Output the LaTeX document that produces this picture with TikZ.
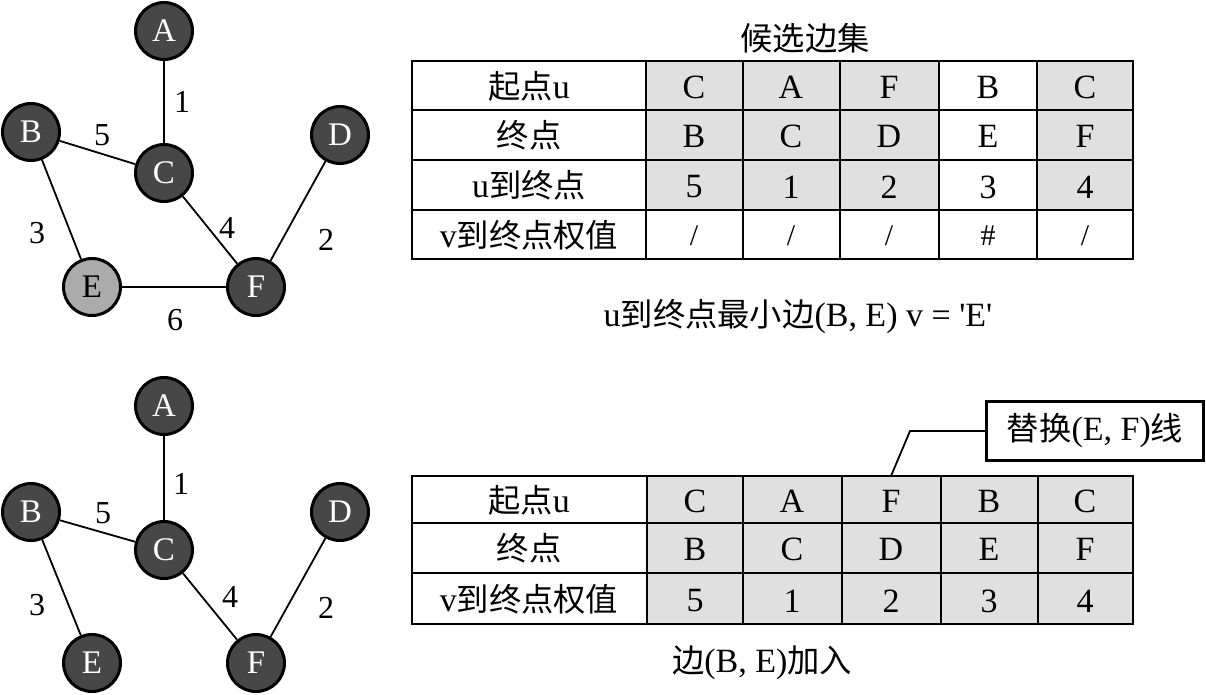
\documentclass[tikz,border=0pt]{standalone}
\usepackage{fontspec}
\setmainfont{Liberation Serif}
\newfontfamily\qfont[Ligatures=TeXOff]{Liberation Serif}
\newfontfamily\cjk[Scale=0.95]{Noto Sans CJK SC}
\definecolor{vdark}{HTML}{474747}
\definecolor{vlight}{HTML}{ABABAB}
\definecolor{cellgrey}{HTML}{E0E0E0}
\newcommand{\slsh}{/}
\newcommand{\sq}{{\qfont\char"27}}
\begin{document}
\begin{tikzpicture}[x=1pt,y=-1pt,
  vtx/.style={circle, draw=black, line width=3pt, fill=vdark, text=white,
    minimum size=57pt, inner sep=0pt, font=\fontsize{33}{33}\selectfont},
  vtxlight/.style={vtx, fill=vlight, text=black},
  edge/.style={line width=1.8pt},
  wlab/.style={font=\fontsize{32}{32}\selectfont, inner sep=0pt},
  txt/.style={font=\fontsize{34}{34}\selectfont, inner sep=0pt, anchor=center},
  grid/.style={line width=1.9pt},
  callout/.style={draw, line width=3pt, minimum width=217pt, minimum height=59pt,
    inner sep=0pt, font=\fontsize{34}{34}\selectfont}]
\useasboundingbox (0,0) rectangle (1206,694);

% ---------- top graph ----------
\node[vtx] (A1) at (164,31) {A};
\node[vtx] (B1) at (31,132) {B};
\node[vtx] (C1) at (164,173) {C};
\node[vtx] (D1) at (340,135) {D};
\node[vtxlight] (E1) at (92,287) {E};
\node[vtx] (F1) at (256,287) {F};
\draw[edge] (A1) -- (C1);
\draw[edge] (B1) -- (C1);
\draw[edge] (B1) -- (E1);
\draw[edge] (C1) -- (F1);
\draw[edge] (D1) -- (F1);
\draw[edge] (E1) -- (F1);
\node[wlab] (w1a) at (182,102) {1};
\node[wlab] (w1b) at (102,135) {5};
\node[wlab] (w1c) at (37,233) {3};
\node[wlab] (w1d) at (227,228) {4};
\node[wlab] (w1e) at (326,240) {2};
\node[wlab] (w1f) at (175,320) {6};

% ---------- bottom graph ----------
\node[vtx] (A2) at (164,406) {A};
\node[vtx] (B2) at (31,512) {B};
\node[vtx] (C2) at (164,550) {C};
\node[vtx] (D2) at (340,512) {D};
\node[vtx] (E2) at (92,663) {E};
\node[vtx] (F2) at (256,663) {F};
\draw[edge] (A2) -- (C2);
\draw[edge] (B2) -- (C2);
\draw[edge] (B2) -- (E2);
\draw[edge] (C2) -- (F2);
\draw[edge] (D2) -- (F2);
\node[wlab] (w2a) at (181,484) {1};
\node[wlab] (w2b) at (103,513) {5};
\node[wlab] (w2c) at (37,605) {3};
\node[wlab] (w2d) at (230,597) {4};
\node[wlab] (w2e) at (326,608) {2};

% ---------- top table ----------
\node[txt] (title) at (805,38) {\cjk 候选边集};
\fill[cellgrey] (646,61) rectangle (939,210);
\fill[cellgrey] (1037,61) rectangle (1133,210);
\draw[grid] (412,61) rectangle (1133,259);
\foreach \yy in {110,160,210} \draw[grid] (412,\yy) -- (1133,\yy);
\foreach \xx in {646,743,840,939,1037} \draw[grid] (\xx,61) -- (\xx,259);
\node[txt] at (529,86) {{\cjk 起点}u};
\node[txt] at (529,135) {\cjk 终点};
\node[txt] at (529,185) {u{\cjk 到终点}};
\node[txt] at (529,235) {v{\cjk 到终点权值}};
\foreach \xx/\a/\b/\c/\d in {694/C/B/5/\slsh,791/A/C/1/\slsh,889/F/D/2/\slsh,988/B/E/3/\#,1085/C/F/4/\slsh}{
  \node[txt] at (\xx,87) {\a};
  \node[txt] at (\xx,136) {\b};
  \node[txt] at (\xx,187) {\c};
  \node[txt, font=\fontsize{30}{30}\selectfont] at (\xx,236) {\d};
}
\node[txt] (cap1) at (798,317) {u{\cjk 到终点最小边}(B, E) v = \sq E\sq};

% ---------- bottom table ----------
\fill[cellgrey] (647,476) rectangle (1133,624);
\draw[grid] (412,476) rectangle (1133,624);
\foreach \yy in {523,573} \draw[grid] (412,\yy) -- (1133,\yy);
\foreach \xx in {647,743,842,941,1038} \draw[grid] (\xx,476) -- (\xx,624);
\node[txt] at (529,500) {{\cjk 起点}u};
\node[txt] at (529,548) {\cjk 终点};
\node[txt] at (529,599) {v{\cjk 到终点权值}};
\foreach \xx/\a/\b/\c in {695/C/B/5,792/A/C/1,891/F/D/2,989/B/E/3,1085/C/F/4}{
  \node[txt] at (\xx,501) {\a};
  \node[txt] at (\xx,549) {\b};
  \node[txt] at (\xx,601) {\c};
}
\node[txt] (cap2) at (762,663) {{\cjk 边}(B, E){\cjk 加入}};

% ---------- callout ----------
\node[callout] (call) at (1095,431) {{\cjk 替换}(E, F){\cjk 线}};
\coordinate (fcell) at (891,476);
\draw[line width=1.8pt] (call.west) -- (910,431) -- (fcell);
\end{tikzpicture}
\end{document}
